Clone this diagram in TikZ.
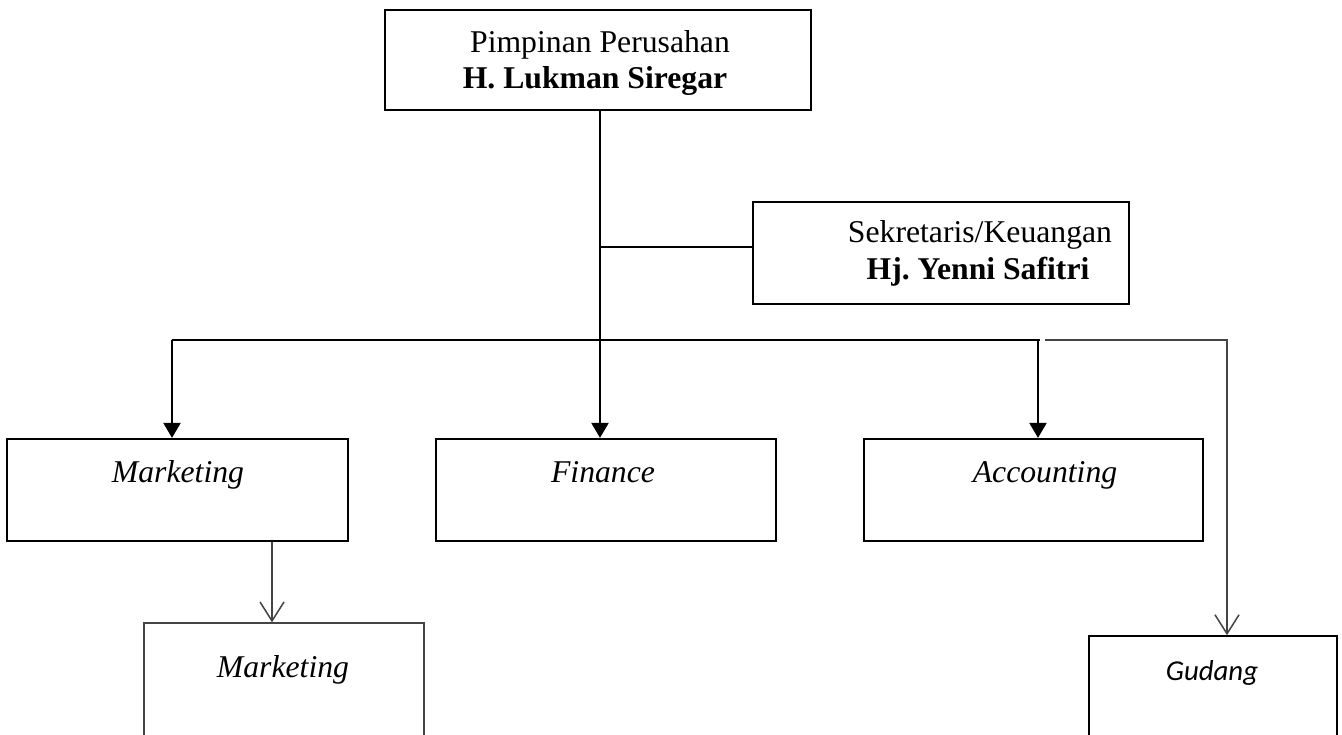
\documentclass[tikz,border=0pt]{standalone}
\usepackage{fontspec}
\setmainfont{Liberation Serif}
\newfontfamily\calib{Carlito}
\usetikzlibrary{arrows.meta}
\definecolor{lgray}{RGB}{68,68,68}
\tikzset{
  box/.style={draw=black, line width=2.2pt, inner sep=0pt},
  thinbox/.style={draw=lgray, line width=1.3pt, inner sep=0pt},
  gudbox/.style={draw=black, line width=1.6pt, inner sep=0pt},
  txt/.style={anchor=base, inner sep=0pt, font=\fontsize{31.7}{36}\selectfont},
  conn/.style={draw=black, line width=2.2pt},
  gconn/.style={draw=lgray, line width=1.5pt},
  blk/.style={-{Triangle[length=15pt,width=17pt]}},
  opn/.style={-{Straight Barb[length=19pt,width=24pt,line width=1.5pt]}}
}
\begin{document}
\begin{tikzpicture}[x=1pt,y=-1pt]
\useasboundingbox (0,0) rectangle (1342,735);
\clip (0,0) rectangle (1342,735);
\fill[white] (0,0) rectangle (1342,735);
% boxes
\node[box, minimum width=426pt, minimum height=100pt] (top) at (598,60) {};
\node[box, minimum width=376pt, minimum height=102pt] (sek) at (941,253) {};
\node[box, minimum width=341pt, minimum height=102pt] (mkt) at (177.5,490) {};
\node[box, minimum width=340pt, minimum height=102pt] (fin) at (606,490) {};
\node[box, minimum width=339pt, minimum height=102pt] (acc) at (1033.5,490) {};
\node[thinbox, minimum width=280pt, minimum height=160pt] (mkt2) at (284,703) {};
\node[gudbox, minimum width=248pt, minimum height=150pt] (gud) at (1213,711) {};
% texts
\node[txt] (topa) at (600,53) {Pimpinan Perusahan};
\node[txt] (topb) at (595,89) {\bfseries H. Lukman Siregar};
\node[txt] (seka) at (980,243) {Sekretaris/Keuangan};
\node[txt] (sekb) at (978,280) {\bfseries Hj.\ Yenni Safitri};
\node[txt] (mkta) at (178,482) {\itshape Marketing};
\node[txt] (fina) at (603,482) {\itshape Finance};
\node[txt] (acca) at (1045,482) {\itshape Accounting};
\node[txt] (mkt2a) at (283,677) {\itshape Marketing};
\node[txt, font=\calib\itshape\fontsize{28.8}{34}\selectfont] (guda) at (1212,680) {Gudang};
% connector coordinates
\coordinate (j1) at (600,247);
\coordinate (bus) at (600,340);
\coordinate (busL) at (172,340);
\coordinate (busR) at (1040,340);
\coordinate (accx) at (1038,340);
\coordinate (g1) at (1045,340);
\coordinate (g2) at (1227,340);
\coordinate (m2x) at (272,600);
% connectors
\draw[conn] (top.south -| j1) -- (bus);
\draw[conn] (j1) -- (j1 -| sek.west);
\draw[conn] (busL) -- (busR);
\draw[conn, blk] (busL) -- (busL |- mkt.north);
\draw[conn, blk] (bus) -- (bus |- fin.north);
\draw[conn, blk] (accx) -- (accx |- acc.north);
\draw[gconn, opn] (g1) -- (g2) -- (g2 |- gud.north);
\draw[gconn, opn] (mkt.south -| m2x) -- (mkt2.north -| m2x);
\end{tikzpicture}
\end{document}
